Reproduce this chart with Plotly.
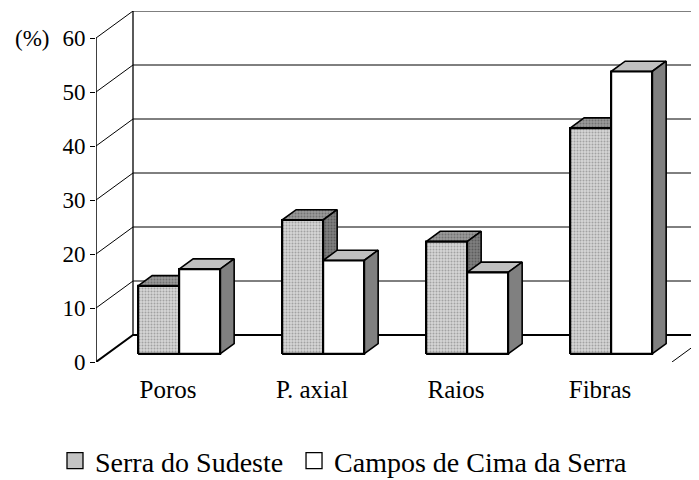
import plotly.graph_objects as go

# ---- data ----
categories = ["Poros", "P. axial", "Raios", "Fibras"]
serra_sudeste = [12.6, 24.8, 20.8, 41.8]
campos_cima = [15.7, 17.3, 15.1, 52.3]
series_names = ["Serra do Sudeste", "Campos de Cima da Serra"]
y_ticks = [0, 10, 20, 30, 40, 50, 60]

# ---- pseudo-3D projection parameters (style, not data) ----
DX = 37 / 144      # receding shift, category units
DY = 5.0           # receding shift, value units
BAR_W = 41 / 144   # bar width, category units
Z0, Z1 = 0.30, 0.68
U_LEFT = -0.5
U_RIGHT = len(categories) - 0.5
X_RANGE = [U_LEFT, U_LEFT + 603 / 144]
Y_RANGE = [0, 65]
FONT = "Liberation Serif"


def proj(u, v, z):
    return u + DX * z, v + DY * z


def poly(pts):
    xs, ys = [], []
    for (u, v, z) in pts:
        x, y = proj(u, v, z)
        xs.append(x)
        ys.append(y)
    xs.append(xs[0])
    ys.append(ys[0])
    return xs, ys


fig = go.Figure()


def add_line(pts, width=1, color="black"):
    xs, ys = [], []
    for (u, v, z) in pts:
        x, y = proj(u, v, z)
        xs.append(x)
        ys.append(y)
    fig.add_trace(go.Scatter(x=xs, y=ys, mode="lines", line=dict(color=color, width=width),
                             hoverinfo="skip", showlegend=False, cliponaxis=False))


def add_face(pts, fill, pattern=None, lw=1.6):
    xs, ys = poly(pts)
    kw = {}
    if pattern is not None:
        kw["fillpattern"] = pattern
    fig.add_trace(go.Scatter(x=xs, y=ys, mode="lines", fill="toself", fillcolor=fill,
                             line=dict(color="black", width=lw), hoverinfo="skip",
                             showlegend=False, cliponaxis=False, **kw))


# walls: back-wall gridlines and left-wall diagonals
for t in y_ticks:
    w = 2 if t == 0 else 1
    add_line([(U_LEFT, t, 0), (U_LEFT, t, 1), (U_RIGHT, t, 1)], width=w)
# back wall left edge
add_line([(U_LEFT, 0, 1), (U_LEFT, y_ticks[-1], 1)], width=1.3)
# floor right edge
add_line([(U_RIGHT, 0, 0), (U_RIGHT, 0, 1)], width=1)
# front value axis
add_line([(U_LEFT, 0, 0), (U_LEFT, y_ticks[-1], 0)], width=1.5)

gray_pat = dict(shape=".", bgcolor="#d6d6d6", fgcolor="#a2a2a2", size=3, solidity=0.35, fillmode="replace")
gray_top_pat = dict(shape=".", bgcolor="#9a9a9a", fgcolor="#727272", size=3, solidity=0.35, fillmode="replace")
gray_side_pat = dict(shape=".", bgcolor="#808080", fgcolor="#5c5c5c", size=3, solidity=0.35, fillmode="replace")

styles = [
    dict(front="#c8c8c8", top="#8a8a8a", side="#707070",
         fp=gray_pat, tp=gray_top_pat, sp=gray_side_pat),
    dict(front="#ffffff", top="#c0c0c0", side="#808080", fp=None, tp=None, sp=None),
]

series = [serra_sudeste, campos_cima]
for i in range(len(categories)):
    for j, vals in enumerate(series):
        h = vals[i]
        u0 = i - BAR_W + j * BAR_W
        u1 = u0 + BAR_W
        st = styles[j]
        add_face([(u0, h, Z0), (u1, h, Z0), (u1, h, Z1), (u0, h, Z1)], st["top"], st["tp"])
        add_face([(u1, 0, Z0), (u1, 0, Z1), (u1, h, Z1), (u1, h, Z0)], st["side"], st["sp"])
        add_face([(u0, 0, Z0), (u1, 0, Z0), (u1, h, Z0), (u0, h, Z0)], st["front"], st["fp"], lw=2.2)

# legend entries (one legend box per series for exact placement)
legend_colors = ["#c4c4c4", "#ffffff"]
legend_ids = ["legend", "legend2"]
for name, col, lid in zip(series_names, legend_colors, legend_ids):
    fig.add_trace(go.Scatter(x=[None], y=[None], name=name, mode="markers", legend=lid,
                             marker=dict(symbol="square", size=16, color=col,
                                         line=dict(color="black", width=1.3))))

fig.add_annotation(text="(%)", xref="paper", yref="y", x=-0.106, y=60, xanchor="center",
                   yanchor="middle", showarrow=False, font=dict(family=FONT, size=23, color="black"))

legend_common = dict(orientation="h", y=-0.282, xanchor="left", yanchor="middle",
                     font=dict(family=FONT, size=28, color="black"), bgcolor="rgba(0,0,0,0)",
                     itemsizing="trace", itemclick=False)

fig.update_layout(
    width=699, height=480,
    margin=dict(l=88, r=8, t=3, b=126, autoexpand=False),
    plot_bgcolor="white", paper_bgcolor="white",
    xaxis=dict(type="linear", range=X_RANGE, showgrid=False, zeroline=False, showline=False,
               tickvals=list(range(len(categories))), ticktext=categories,
               ticks="outside", ticklen=5, tickcolor="rgba(0,0,0,0)",
               tickfont=dict(family=FONT, size=25, color="black")),
    yaxis=dict(range=Y_RANGE, showgrid=False, zeroline=False, showline=False,
               tickvals=y_ticks, ticks="outside", ticklen=5, tickcolor="black", tickwidth=1,
               tickfont=dict(family=FONT, size=23, color="black")),
    showlegend=True,
    legend=dict(x=-0.068, **legend_common),
    legend2=dict(x=0.3284, **legend_common),
)

fig.write_html("out.html")
